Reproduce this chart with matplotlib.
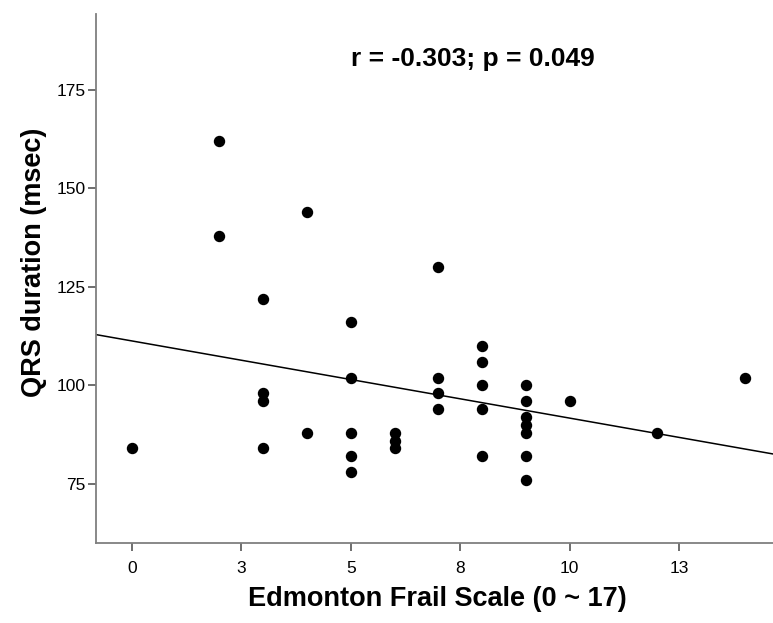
import matplotlib
matplotlib.use("Agg")
import matplotlib.pyplot as plt
import numpy as np

plt.rcParams['font.family'] = ['Liberation Sans', 'DejaVu Sans']

# Data
efs = [0,
       2, 2,
       3, 3, 3, 3,
       4, 4,
       5, 5, 5, 5, 5,
       6, 6, 6,
       7, 7, 7, 7,
       8, 8, 8, 8, 8,
       9, 9, 9, 9, 9, 9, 9,
       10, 12, 14]
qrs = [84,
       162, 138,
       122, 98, 96, 84,
       144, 88,
       116, 102, 88, 82, 78,
       88, 86, 84,
       130, 102, 98, 94,
       110, 106, 100, 94, 82,
       100, 96, 92, 90, 88, 82, 76,
       96, 88, 102]

fit_intercept = 111.3
fit_slope = -1.96

x_ticks = [0, 2.5, 5, 7.5, 10, 12.5]
x_tick_labels = ["0", "3", "5", "8", "10", "13"]
y_ticks = [75, 100, 125, 150, 175]
annotation = "r = -0.303; p = 0.049"

fig = plt.figure(figsize=(7.73, 6.23), dpi=100)
ax = fig.add_axes([96/773, 80/623, 677/773, 529/623])

xlim = (-0.82, 14.64)
ax.set_xlim(*xlim)
ax.set_ylim(60, 194.3)

ax.plot(efs, qrs, 'o', color='black', markersize=7.2, zorder=3)
xl = np.array(xlim)
ax.plot(xl, fit_intercept + fit_slope * xl, color='black', lw=1.1, zorder=2)

ax.set_xticks(x_ticks)
ax.set_xticklabels(x_tick_labels)
ax.set_yticks(y_ticks)
ax.tick_params(axis='both', length=6, width=1.2, color='#555555', labelsize=12.5)
ax.tick_params(axis='y', pad=1.5)
ax.tick_params(axis='x', pad=7)

for s in ['top', 'right']:
    ax.spines[s].set_visible(False)
for s in ['left', 'bottom']:
    ax.spines[s].set_color('#7f7f7f')
    ax.spines[s].set_linewidth(1.3)

ax.set_xlabel("Edmonton Frail Scale (0 ~ 17)", fontsize=19.5, fontweight='bold')
ax.set_ylabel("QRS duration (msec)", fontsize=19.5, fontweight='bold')
ax.xaxis.set_label_coords(0.504, -0.081)
ax.yaxis.set_label_coords(-0.072, 0.531)

ax.text(7.78, 183, annotation, fontsize=19, fontweight='bold', ha='center', va='center')

fig.savefig("out.png", dpi=100)
